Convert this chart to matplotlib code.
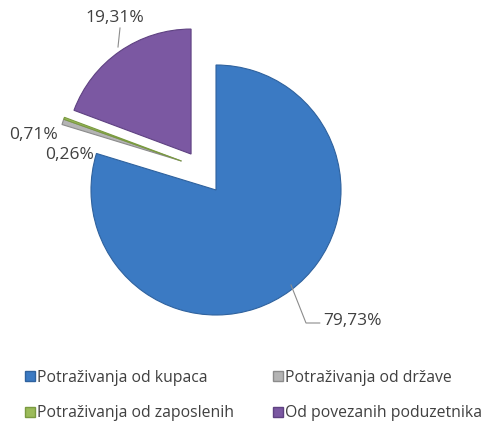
import numpy as np
import matplotlib.pyplot as plt
from matplotlib.lines import Line2D

plt.rcParams['font.family'] = ['Open Sans', 'DejaVu Sans']

# Podaci
kategorije = ['Potraživanja od kupaca', 'Potraživanja od države',
              'Potraživanja od zaposlenih', 'Od povezanih poduzetnika']
udjeli = [79.73, 0.71, 0.26, 19.31]
oznake = ['79,73%', '0,71%', '0,26%', '19,31%']

boje = ['#3b7ac3', '#b4b4b4', '#9bbb59', '#7b58a2']
rubovi = ['#2f629e', '#8c8c8c', '#7a9a40', '#5f4282']
izvuci = [0, 0.36, 0.36, 0.35]

fig = plt.figure(figsize=(4.83, 4.23), dpi=100)
ax = fig.add_axes([0, 0, 1, 1])

wedges, _ = ax.pie(udjeli, colors=boje, explode=izvuci, startangle=90,
                   counterclock=False, radius=1,
                   wedgeprops=dict(linewidth=0.8))
for w, e in zip(wedges, rubovi):
    w.set_edgecolor(e)

# mali isječci su u originalu pomaknuti više prema gore
for i in (1, 2):
    kut = np.deg2rad(140)
    wedges[i].set_center((izvuci[i] * np.cos(kut), izvuci[i] * np.sin(kut)))

# centar plavog isječka na (216, 190) px, radijus 125 px
ax.set_xlim(-216 / 125, (483 - 216) / 125)
ax.set_ylim(-(423 - 190) / 125, 190 / 125)
ax.set_aspect('auto')
ax.axis('off')

# oznake postotaka
pozicije = [(1.09, -1.048), (-1.456, 0.44), (-1.168, 0.28), (-0.808, 1.376)]
for (x, y), t in zip(pozicije, oznake):
    ax.text(x, y, t, fontsize=12.5, color='#404040', ha='center', va='center')

# linije do oznaka
ax.plot([0.60, 0.72, 0.83], [-0.76, -1.064, -1.064], color='#8c8c8c', lw=0.8)
ax.plot([-0.784, -0.768], [1.144, 1.296], color='#8c8c8c', lw=0.8)

# legenda
handles = [Line2D([], [], marker='s', ls='', markersize=7, markerfacecolor=b,
                  markeredgecolor=e) for b, e in zip(boje, rubovi)]
red = [0, 2, 1, 3]
fig.legend([handles[i] for i in red], [kategorije[i] for i in red],
           ncol=2, loc='upper left', bbox_to_anchor=(0.0205, 0.159),
           frameon=False, fontsize=11.3, handlelength=0.7, handletextpad=0.15,
           columnspacing=2.4, labelspacing=1.25, labelcolor='#404040',
           borderpad=0.4)

fig.savefig('out.png', dpi=100)
